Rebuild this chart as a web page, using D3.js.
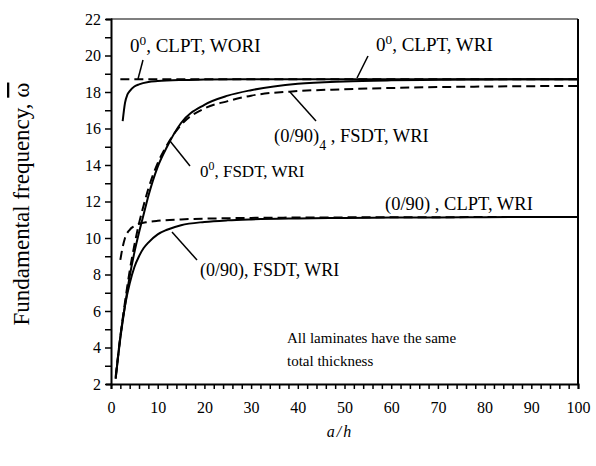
<!DOCTYPE html>
<html><head><meta charset="utf-8">
<script src="https://cdn.jsdelivr.net/npm/d3@7"></script>
<style>
body{margin:0;background:#fff;}
svg{display:block;}
</style></head>
<body>
<svg id="c" width="596" height="466"></svg>
<script>
// ---- data ----
const xTicks = [0,10,20,30,40,50,60,70,80,90,100];
const yTicks = [2,4,6,8,10,12,14,16,18,20,22];

const ahFSDT = [1,2,3,4,5,6,7,8,10,12,15,20,25,30,40,50,60,70,80,90,100];
const fsdt0 = [2.3,4.5,6.3,7.9,9.2,10.3,11.3,12.3,13.9,15.0,16.3,17.3,17.8,18.1,18.45,18.58,18.64,18.67,18.69,18.7,18.7];
const fsdt0904 = [2.4,4.6,6.5,8.2,9.6,10.8,11.8,12.7,14.1,15.1,16.2,17.1,17.5,17.8,18.05,18.15,18.22,18.27,18.3,18.32,18.33];
const fsdt090 = [2.3,4.6,6.3,7.5,8.4,9.0,9.45,9.75,10.2,10.45,10.7,10.88,10.97,11.02,11.07,11.1,11.12,11.13,11.14,11.15,11.15];

const ahCLPT0 = [2.5,3,3.5,4,5,6,8,10,15,20,30,50,100];
const clpt0 = [16.4,17.4,17.85,18.05,18.3,18.42,18.55,18.6,18.66,18.68,18.7,18.7,18.7];

const ahCLPT090 = [2,2.5,3,4,5,6,8,10,15,20,30,50,100];
const clpt090 = [8.8,9.5,10.0,10.45,10.65,10.78,10.88,10.94,11.02,11.06,11.1,11.13,11.15];

const ahWORI = [2,100];
const clptWORI = [18.7,18.7];

const FONT = '"Liberation Serif", "Times New Roman", Times, serif';

// ---- chart ----
const svg = d3.select("#c");
const x = d3.scaleLinear().domain([0,100]).range([111,578]);
const y = d3.scaleLinear().domain([2,22]).range([384,19]);

// box: top and right
svg.append("line").attr("x1",x(0)).attr("x2",x(100)).attr("y1",y(22)).attr("y2",y(22))
  .attr("stroke","#555").attr("stroke-width",1.5);
svg.append("line").attr("x1",x(100)).attr("x2",x(100)).attr("y1",y(22)).attr("y2",y(2))
  .attr("stroke","#000").attr("stroke-width",2);

// x axis
const xAxis = d3.axisBottom(x).tickValues(d3.range(0,101,2)).tickSize(5)
  .tickFormat(d => xTicks.includes(d) ? d : "");
const gx = svg.append("g").attr("transform",`translate(0,${y(2)})`).call(xAxis)
  .attr("font-family",FONT).attr("font-size",16);
gx.select(".domain").attr("stroke","#000").attr("stroke-width",2);
gx.selectAll(".tick line").attr("stroke","#000").attr("stroke-width",1.5);
gx.selectAll("text").attr("dy","1.3em").attr("fill","#000");

// y axis
const yAxis = d3.axisLeft(y).tickValues(d3.range(2,23,1)).tickSize(5)
  .tickFormat(d => yTicks.includes(d) ? d : "");
const gy = svg.append("g").attr("transform",`translate(${x(0)},0)`).call(yAxis)
  .attr("font-family",FONT).attr("font-size",16);
gy.select(".domain").attr("stroke","#000").attr("stroke-width",2);
gy.selectAll(".tick line").attr("stroke","#000").attr("stroke-width",1.5).attr("x2",-6).attr("x1",1);
gy.selectAll("text").attr("x",-10).attr("fill","#000");

// lines
const mk = (xs, ys) => xs.map((d,i)=>[d, ys[i]]);
const line = d3.line().x(d=>x(d[0])).y(d=>y(d[1])).curve(d3.curveMonotoneX);
const series = [
  {d: mk(ahWORI, clptWORI), dash: "9,5"},
  {d: mk(ahCLPT090, clpt090), dash: "9,5"},
  {d: mk(ahFSDT, fsdt0904), dash: "9,5"},
  {d: mk(ahFSDT, fsdt090), dash: null},
  {d: mk(ahFSDT, fsdt0), dash: null},
  {d: mk(ahCLPT0, clpt0), dash: null},
];
series.forEach(s => {
  svg.append("path").attr("d", line(s.d)).attr("fill","none").attr("stroke","#000")
    .attr("stroke-width",2).attr("stroke-dasharray", s.dash);
});

// annotations
function label(px, py, parts, size){
  const t = svg.append("text").attr("x",px).attr("y",py).attr("font-size",size||18)
    .attr("font-family",FONT).attr("fill","#000");
  parts.forEach(p => {
    const ts = t.append("tspan").text(p.t);
    if(p.sup){ ts.attr("baseline-shift","super").attr("font-size",(size||18)*0.7); }
    if(p.sub){ ts.attr("baseline-shift","sub").attr("font-size",(size||18)*0.75); }
  });
}
function leader(x1,y1,x2,y2){
  svg.append("line").attr("x1",x1).attr("y1",y1).attr("x2",x2).attr("y2",y2)
    .attr("stroke","#000").attr("stroke-width",1.5);
}
label(130,52,[{t:"0"},{t:"0",sup:true},{t:", CLPT, WORI"}],19);
leader(143,60,138,79);
label(376,51,[{t:"0"},{t:"0",sup:true},{t:", CLPT, WRI"}],19);
leader(368,56,357,78);
label(274,142,[{t:"(0/90)"},{t:"4",sub:true},{t:" , FSDT, WRI"}],18.5);
leader(290,92,316,121);
label(200,177,[{t:"0"},{t:"0",sup:true},{t:", FSDT, WRI"}],17);
leader(170,141,190,166);
label(385,210,[{t:"(0/90) , CLPT, WRI"}],18.5);
label(200,276,[{t:"(0/90), FSDT, WRI"}]);
leader(172,232,197,260);
label(287,343,[{t:"All laminates have the same"}],15);
label(287,366,[{t:"total thickness"}],15);

// axis titles
const yt = svg.append("text").attr("transform","translate(29,204) rotate(-90)").attr("text-anchor","middle")
  .attr("font-size",23).attr("font-family",FONT).attr("fill","#000");
yt.append("tspan").text("Fundamental frequency, ");
yt.append("tspan").text("ω").style("text-decoration","overline");
svg.append("text").attr("x",340).attr("y",437).attr("text-anchor","middle")
  .attr("font-family",FONT).attr("font-size",16).attr("font-style","italic").attr("letter-spacing",2)
  .attr("fill","#000").text("a/h");
</script>
</body></html>
